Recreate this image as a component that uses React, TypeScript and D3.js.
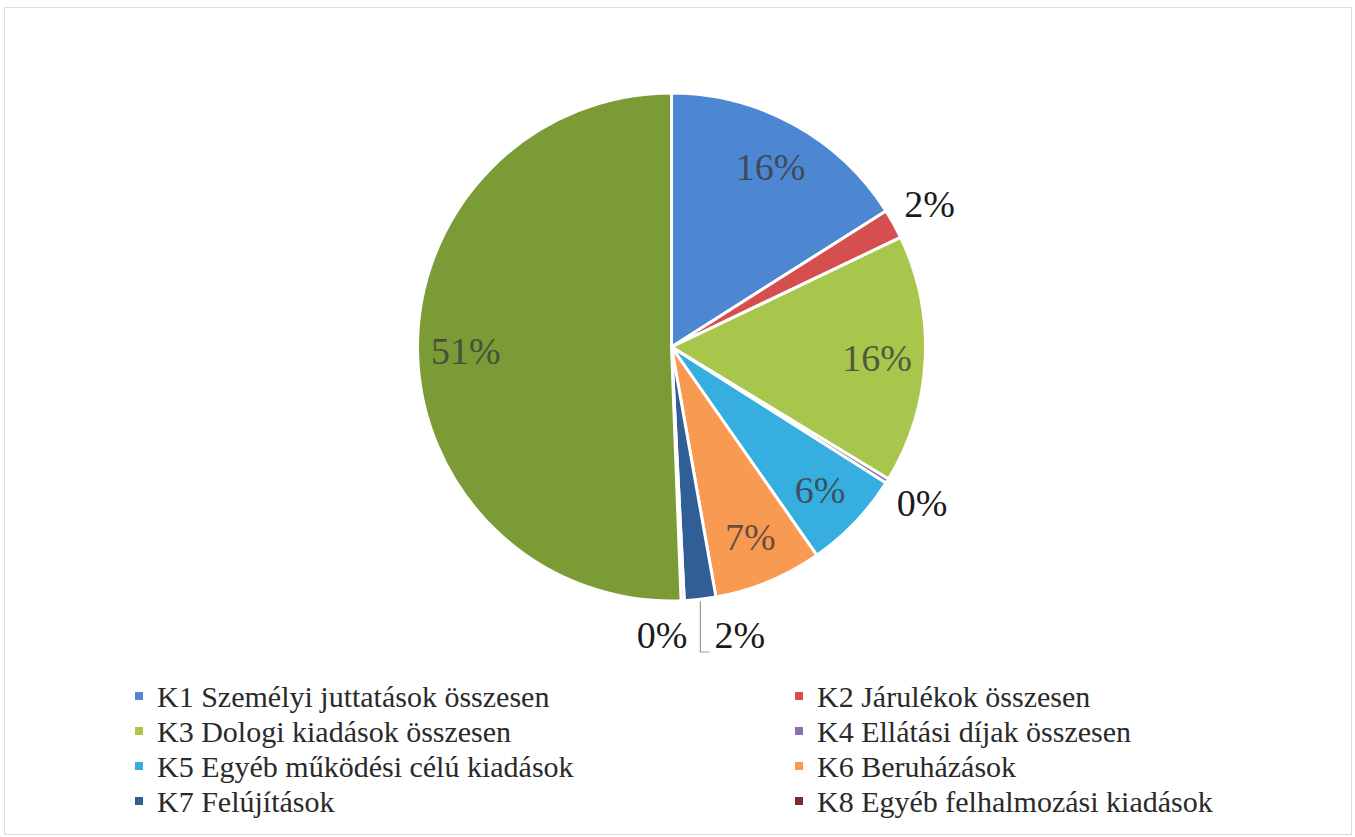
import React from "react";
import * as d3 from "d3";

// ---- data ----
const categories = [
  "K1 Személyi juttatások összesen",
  "K2 Járulékok összesen",
  "K3 Dologi kiadások összesen",
  "K4 Ellátási díjak összesen",
  "K5 Egyéb működési célú kiadások",
  "K6 Beruházások",
  "K7 Felújítások",
  "K8 Egyéb felhalmozási kiadások",
  "",
];
const values = [16.0, 1.9, 15.8, 0.3, 6.3, 6.9, 2.0, 0.2, 50.6];
const colors = [
  "#4d87d2",
  "#d64f4f",
  "#a8c64c",
  "#8a6fae",
  "#37aee0",
  "#f89a52",
  "#2f5f95",
  "#7a2e30",
  "#7b9b37",
];
// label placement: "in" inside, "out" outside, "leaderR"/"leftOf" special
const labelModes = ["in", "out", "in", "out", "in", "in", "leaderR", "leftOf", "in"];
const legendOrder = [0, 1, 2, 3, 4, 5, 6, 7];

const W = 1355;
const H = 837;
const cx = 671.5;
const cy = 347;
const R = 254;

function Label(props: { x: number; y: number; size: number; anchor?: string; fill: string; opacity?: number; children: string }) {
  return (
    <text
      x={props.x}
      y={props.y}
      dy="0.35em"
      textAnchor={props.anchor || "start"}
      fontFamily="Liberation Serif"
      fontSize={props.size}
      fill={props.fill}
      fillOpacity={props.opacity ?? 1}
      style={{ fontFamily: '"Liberation Serif"' }}
    >
      {props.children}
    </text>
  );
}

export default function App() {
  const total = d3.sum(values);
  const pie = d3.pie<number>().sort(null).value((d) => d)(values);
  const arc = d3.arc<d3.PieArcDatum<number>>().innerRadius(0).outerRadius(R);
  const pct = (v: number) => `${Math.round((v / total) * 100)}%`;
  const polar = (a: number, r: number): [number, number] => [Math.sin(a) * r, -Math.cos(a) * r];
  const mid = (d: d3.PieArcDatum<number>) => (d.startAngle + d.endAngle) / 2;

  const k7 = pie[6];
  const [lx, ly] = polar(mid(k7), R + 2);
  const labelRowY = R + 34;
  const leaderBottom = R + 51;

  return (
    <svg width={W} height={H} style={{ position: "absolute", left: 0, top: 0 }}>
      <rect x={4.5} y={7.5} width={1347} height={827} fill="#fff" stroke="#dcdcdc" strokeWidth={1} />
      <g transform={`translate(${cx},${cy})`}>
        {pie.map((d, i) => (
          <path key={i} d={arc(d) || ""} fill={colors[i]} stroke="#fff" strokeWidth={3} strokeLinejoin="round" />
        ))}
        {pie.map((d, i) => {
          const mode = labelModes[i];
          const a = mid(d);
          if (mode === "in") {
            const [x, y] = polar(a, R * 0.81);
            return (
              <Label key={i} x={x} y={y} size={38} anchor="middle" fill="#3a3a3a" opacity={0.8}>
                {pct(values[i])}
              </Label>
            );
          }
          if (mode === "out") {
            const [x, y] = polar(a, R + 41);
            return (
              <Label key={i} x={x} y={y} size={38} anchor="middle" fill="#1a1a1a">
                {pct(values[i])}
              </Label>
            );
          }
          if (mode === "leaderR") {
            return (
              <g key={i}>
                <polyline
                  points={`${lx},${ly} ${lx},${leaderBottom} ${lx + 9},${leaderBottom}`}
                  fill="none"
                  stroke="#9a9a9a"
                  strokeWidth={1.2}
                />
                <Label x={lx + 14} y={labelRowY} size={38} fill="#1a1a1a">
                  {pct(values[i])}
                </Label>
              </g>
            );
          }
          return (
            <Label key={i} x={lx - 13} y={labelRowY} size={38} anchor="end" fill="#1a1a1a">
              {pct(values[i])}
            </Label>
          );
        })}
      </g>
      <g>
        {legendOrder.map((ci, k) => {
          const col = k % 2;
          const row = Math.floor(k / 2);
          const mx = col === 0 ? 135 : 795;
          const y = 696 + row * 35;
          return (
            <g key={ci}>
              <rect x={mx} y={y - 4} width={8} height={8} fill={colors[ci]} />
              <Label x={mx + 22} y={y} size={30} fill="#2a2a2a">
                {categories[ci]}
              </Label>
            </g>
          );
        })}
      </g>
    </svg>
  );
}
